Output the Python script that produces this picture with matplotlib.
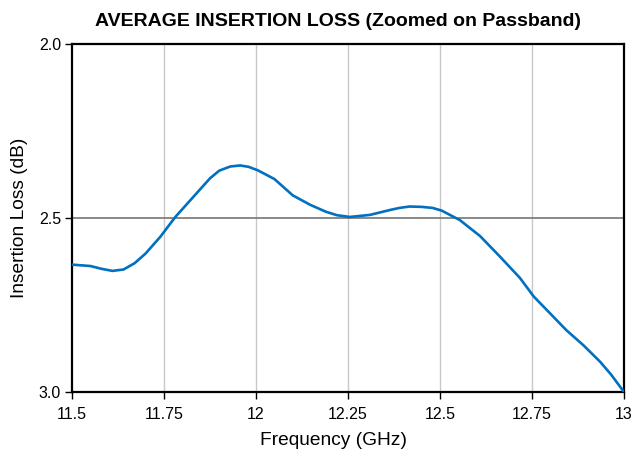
import matplotlib
matplotlib.use("Agg")
import matplotlib.pyplot as plt

plt.rcParams['font.family'] = ['Liberation Sans', 'DejaVu Sans']

freq_ghz = [11.5, 11.55, 11.58, 11.61, 11.64, 11.67, 11.70, 11.74, 11.78, 11.83, 11.875,
            11.90, 11.93, 11.957, 11.98, 12.005, 12.05, 12.10, 12.147, 12.19, 12.22,
            12.255, 12.31, 12.364, 12.39, 12.417, 12.45, 12.48, 12.505, 12.554, 12.609,
            12.663, 12.717, 12.755, 12.80, 12.843, 12.89, 12.935, 12.965, 13.0]
insertion_loss_db = [2.634, 2.638, 2.646, 2.652, 2.648, 2.630, 2.602, 2.554, 2.498, 2.439, 2.386,
                     2.364, 2.352, 2.349, 2.353, 2.363, 2.388, 2.435, 2.462, 2.482, 2.492,
                     2.497, 2.491, 2.477, 2.471, 2.467, 2.468, 2.471, 2.479, 2.506, 2.552,
                     2.611, 2.672, 2.726, 2.775, 2.822, 2.866, 2.913, 2.950, 3.0]

x_ticks = [11.5, 11.75, 12, 12.25, 12.5, 12.75, 13]
x_tick_labels = ['11.5', '11.75', '12', '12.25', '12.5', '12.75', '13']
y_ticks = [2.0, 2.5, 3.0]
y_tick_labels = ['2.0', '2.5', '3.0']

fig = plt.figure(figsize=(6.35, 4.59), dpi=100)
ax = fig.add_axes([72/635, 1-392/459, (624-72)/635, (392-44)/459])

ax.plot(freq_ghz, insertion_loss_db, color='#0070C0', linewidth=1.9, zorder=3,
        solid_joinstyle='round', solid_capstyle='round')

ax.set_xlim(11.5, 13)
ax.set_ylim(3.0, 2.0)
ax.set_xticks(x_ticks)
ax.set_xticklabels(x_tick_labels)
ax.set_yticks(y_ticks)
ax.set_yticklabels(y_tick_labels)

for x in x_ticks[1:-1]:
    ax.axvline(x, color='#C8C8C8', linewidth=1.0, zorder=1)
ax.axhline(2.5, color='#808080', linewidth=1.3, zorder=2)

for s in ax.spines.values():
    s.set_color('black')
    s.set_linewidth(1.6)

ax.tick_params(axis='both', direction='out', length=5, width=1.0, colors='black',
               labelsize=11.5, pad=3)
ax.tick_params(axis='x', pad=6)

ax.set_xlabel('Frequency (GHz)', fontsize=13.8, labelpad=8)
ax.xaxis.set_label_coords((333 - 72) / 552, -0.115)
ax.set_ylabel('Insertion Loss (dB)', fontsize=13.8, labelpad=8)
ax.set_title('AVERAGE INSERTION LOSS (Zoomed on Passband)', fontsize=14,
             fontweight='bold', pad=13, x=(338 - 72) / 552)

fig.savefig('out.png', dpi=100)
